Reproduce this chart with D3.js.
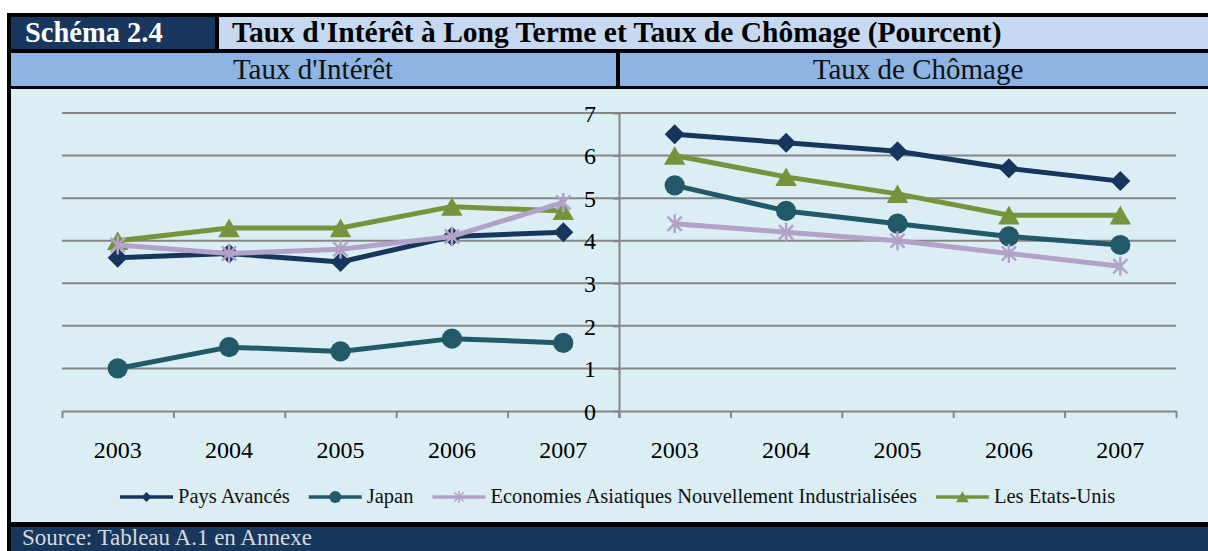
<!DOCTYPE html>
<meta charset="utf-8">
<style>
body { margin: 0; background: #fff; }
text { font-family: "Liberation Serif", "Times New Roman", serif; }
.grid line { stroke: #868686; stroke-width: 2px; }
.axis path, .axis line { stroke: #868686; stroke-width: 2px; }
.axis text { font-size: 24px; fill: #000; font-family: "Liberation Serif", serif; }
.series-line { fill: none; stroke-width: 5px; stroke-linejoin: round; }
.legend text { font-size: 20.5px; fill: #111; }
</style>

<svg id="chart" width="1208" height="551"></svg>

<script src="https://cdn.jsdelivr.net/npm/d3@7"></script>
<script>
// ---- data ----
var years = ["2003", "2004", "2005", "2006", "2007"];
var seriesNames = ["Pays Avancés", "Japan", "Economies Asiatiques Nouvellement Industrialisées", "Les Etats-Unis"];
var yTicks = [0, 1, 2, 3, 4, 5, 6, 7];

// Taux d'Intérêt (long terme)
var interestPays  = [3.6, 3.7, 3.5, 4.1, 4.2];
var interestJapan = [1.0, 1.5, 1.4, 1.7, 1.6];
var interestNIE   = [3.9, 3.7, 3.8, 4.1, 4.9];
var interestUS    = [4.0, 4.3, 4.3, 4.8, 4.7];

// Taux de Chômage
var unempPays  = [6.5, 6.3, 6.1, 5.7, 5.4];
var unempJapan = [5.3, 4.7, 4.4, 4.1, 3.9];
var unempNIE   = [4.4, 4.2, 4.0, 3.7, 3.4];
var unempUS    = [6.0, 5.5, 5.1, 4.6, 4.6];

var navy = "#17375e";

// custom asterisk (vertical bar + X), Excel "star" marker
var asterisk = {
  draw: function(ctx, size) {
    var r = Math.sqrt(size) / 2, d = r * 0.75;
    ctx.moveTo(0, -r); ctx.lineTo(0, r);
    ctx.moveTo(-d, -d); ctx.lineTo(d, d);
    ctx.moveTo(-d, d); ctx.lineTo(d, -d);
  }
};

var series = [
  {name: seriesNames[0], color: "#17365d", interest: interestPays,  unemp: unempPays,  type: d3.symbolSquare,   size: 200, lsize: 50, rotate: 45, dy: 0},
  {name: seriesNames[1], color: "#215968", interest: interestJapan, unemp: unempJapan, type: d3.symbolCircle,   size: 320, lsize: 110, rotate: 0, dy: 0},
  {name: seriesNames[2], color: "#b3a2c7", interest: interestNIE,   unemp: unempNIE,   type: asterisk,          size: 360, lsize: 150, rotate: 0, dy: 0, stroke: true},
  {name: seriesNames[3], color: "#77933c", interest: interestUS,    unemp: unempUS,    type: d3.symbolTriangle, size: 200, lsize: 70, rotate: 0, dy: 3}
];
// draw order: the lavender series sits on top of the green one in the original
var drawOrder = [0, 1, 3, 2];

var svg = d3.select("#chart");

// ---- frame: black border lines, header boxes, source bar ----
svg.append("rect").attr("x", 7).attr("y", 13).attr("width", 1201).attr("height", 538).attr("fill", "#000");
svg.append("rect").attr("x", 11).attr("y", 17).attr("width", 204).attr("height", 32).attr("fill", navy);
svg.append("rect").attr("x", 219).attr("y", 17).attr("width", 989).attr("height", 32).attr("fill", "#c6d9f1");
svg.append("rect").attr("x", 11).attr("y", 53).attr("width", 605).attr("height", 33).attr("fill", "#8db4e2");
svg.append("rect").attr("x", 620).attr("y", 53).attr("width", 588).attr("height", 33).attr("fill", "#8db4e2");
svg.append("rect").attr("x", 11).attr("y", 89).attr("width", 1197).attr("height", 433).attr("fill", "#dbeef4");
svg.append("rect").attr("x", 11).attr("y", 527).attr("width", 1197).attr("height", 24).attr("fill", navy);

svg.append("text").attr("x", 25).attr("y", 42)
    .style("font-size", "28.5px").style("font-weight", "bold").attr("fill", "#fff")
    .text("Schéma 2.4");
svg.append("text").attr("x", 232).attr("y", 42)
    .style("font-size", "29.5px").style("font-weight", "bold").attr("fill", "#000")
    .text("Taux d'Intérêt à Long Terme et Taux de Chômage (Pourcent)");
svg.append("text").attr("x", 313).attr("y", 79).attr("text-anchor", "middle")
    .style("font-size", "29px").attr("fill", "#111")
    .text("Taux d'Intérêt");
svg.append("text").attr("x", 918).attr("y", 79).attr("text-anchor", "middle")
    .style("font-size", "29px").attr("fill", "#111")
    .text("Taux de Chômage");
svg.append("text").attr("x", 22).attr("y", 545)
    .style("font-size", "23px").attr("fill", "#d9d9d9")
    .text("Source: Tableau A.1 en Annexe");

// ---- scales ----
var y = d3.scaleLinear().domain([0, 7]).range([411, 113]);

var panels = [
  {key: "interest", x0: 62,  x1: 619},
  {key: "unemp",    x0: 619, x1: 1176}
];

panels.forEach(function(p) {
  p.x = d3.scaleBand().domain(years).range([p.x0, p.x1]);
  p.edges = d3.scaleLinear().domain([0, years.length]).range([p.x0, p.x1]);

  var g = svg.append("g").attr("class", "panel");

  // horizontal gridlines
  g.append("g").attr("class", "grid")
    .selectAll("line")
    .data(yTicks.slice(1))
    .enter().append("line")
      .attr("x1", p.x0).attr("x2", p.x1)
      .attr("y1", function(d) { return y(d); })
      .attr("y2", function(d) { return y(d); });

  // category axis: line + boundary ticks
  g.append("g").attr("class", "axis")
      .attr("transform", "translate(0," + y(0) + ")")
      .call(d3.axisBottom(p.edges).ticks(years.length).tickSize(7).tickSizeOuter(0).tickFormat(""));

  // category labels
  g.append("g").attr("class", "axis")
      .attr("transform", "translate(0," + y(0) + ")")
      .call(d3.axisBottom(p.x).tickSize(0).tickPadding(30))
      .call(function(a) { a.select(".domain").remove(); });
});

// value axis sits between the two panels
svg.append("g").attr("class", "axis")
    .attr("transform", "translate(619,0)")
    .call(d3.axisLeft(y).tickValues(yTicks).tickFormat(d3.format("d")).tickSize(6).tickSizeOuter(0).tickPadding(17))
    .call(function(a) { a.selectAll("text").attr("dy", "0.34em"); });
svg.append("line").attr("x1", 619).attr("x2", 619).attr("y1", y(0)).attr("y2", y(0) + 7)
    .attr("stroke", "#868686").attr("stroke-width", 2);

// ---- series ----
var line = d3.line();

panels.forEach(function(p) {
  drawOrder.forEach(function(i) {
    var s = series[i];
    var pts = s[p.key].map(function(v, j) {
      return [p.x(years[j]) + p.x.bandwidth() / 2, y(v)];
    });
    var g = svg.append("g").attr("class", "series");
    g.append("path")
        .attr("class", "series-line")
        .attr("stroke", s.color)
        .attr("d", line(pts));
    g.selectAll(".marker")
      .data(pts)
      .enter().append("path")
        .attr("class", "marker")
        .attr("transform", function(d) { return "translate(" + d[0] + "," + (d[1] + s.dy) + ") rotate(" + s.rotate + ")"; })
        .attr("d", d3.symbol().type(s.type).size(s.size))
        .attr("fill", s.stroke ? "none" : s.color)
        .attr("stroke", s.stroke ? s.color : "none")
        .attr("stroke-width", 2.5);
  });
});

// ---- legend ----
var legend = svg.append("g").attr("class", "legend").attr("transform", "translate(0,497)");
var lx = 120;
series.forEach(function(s) {
  var item = legend.append("g").attr("transform", "translate(" + lx + ",0)");
  item.append("line").attr("x1", 0).attr("x2", 53).attr("y1", 0).attr("y2", 0)
      .attr("stroke", s.color).attr("stroke-width", 3.5);
  item.append("path")
      .attr("transform", "translate(26.5," + (s.dy / 2) + ") rotate(" + s.rotate + ")")
      .attr("d", d3.symbol().type(s.type).size(s.lsize))
      .attr("fill", s.stroke ? "none" : s.color)
      .attr("stroke", s.stroke ? s.color : "none")
      .attr("stroke-width", 1.5);
  var t = item.append("text").attr("x", 58).attr("y", 6).text(s.name);
  lx += 58 + t.node().getComputedTextLength() + 19;
});
</script>
